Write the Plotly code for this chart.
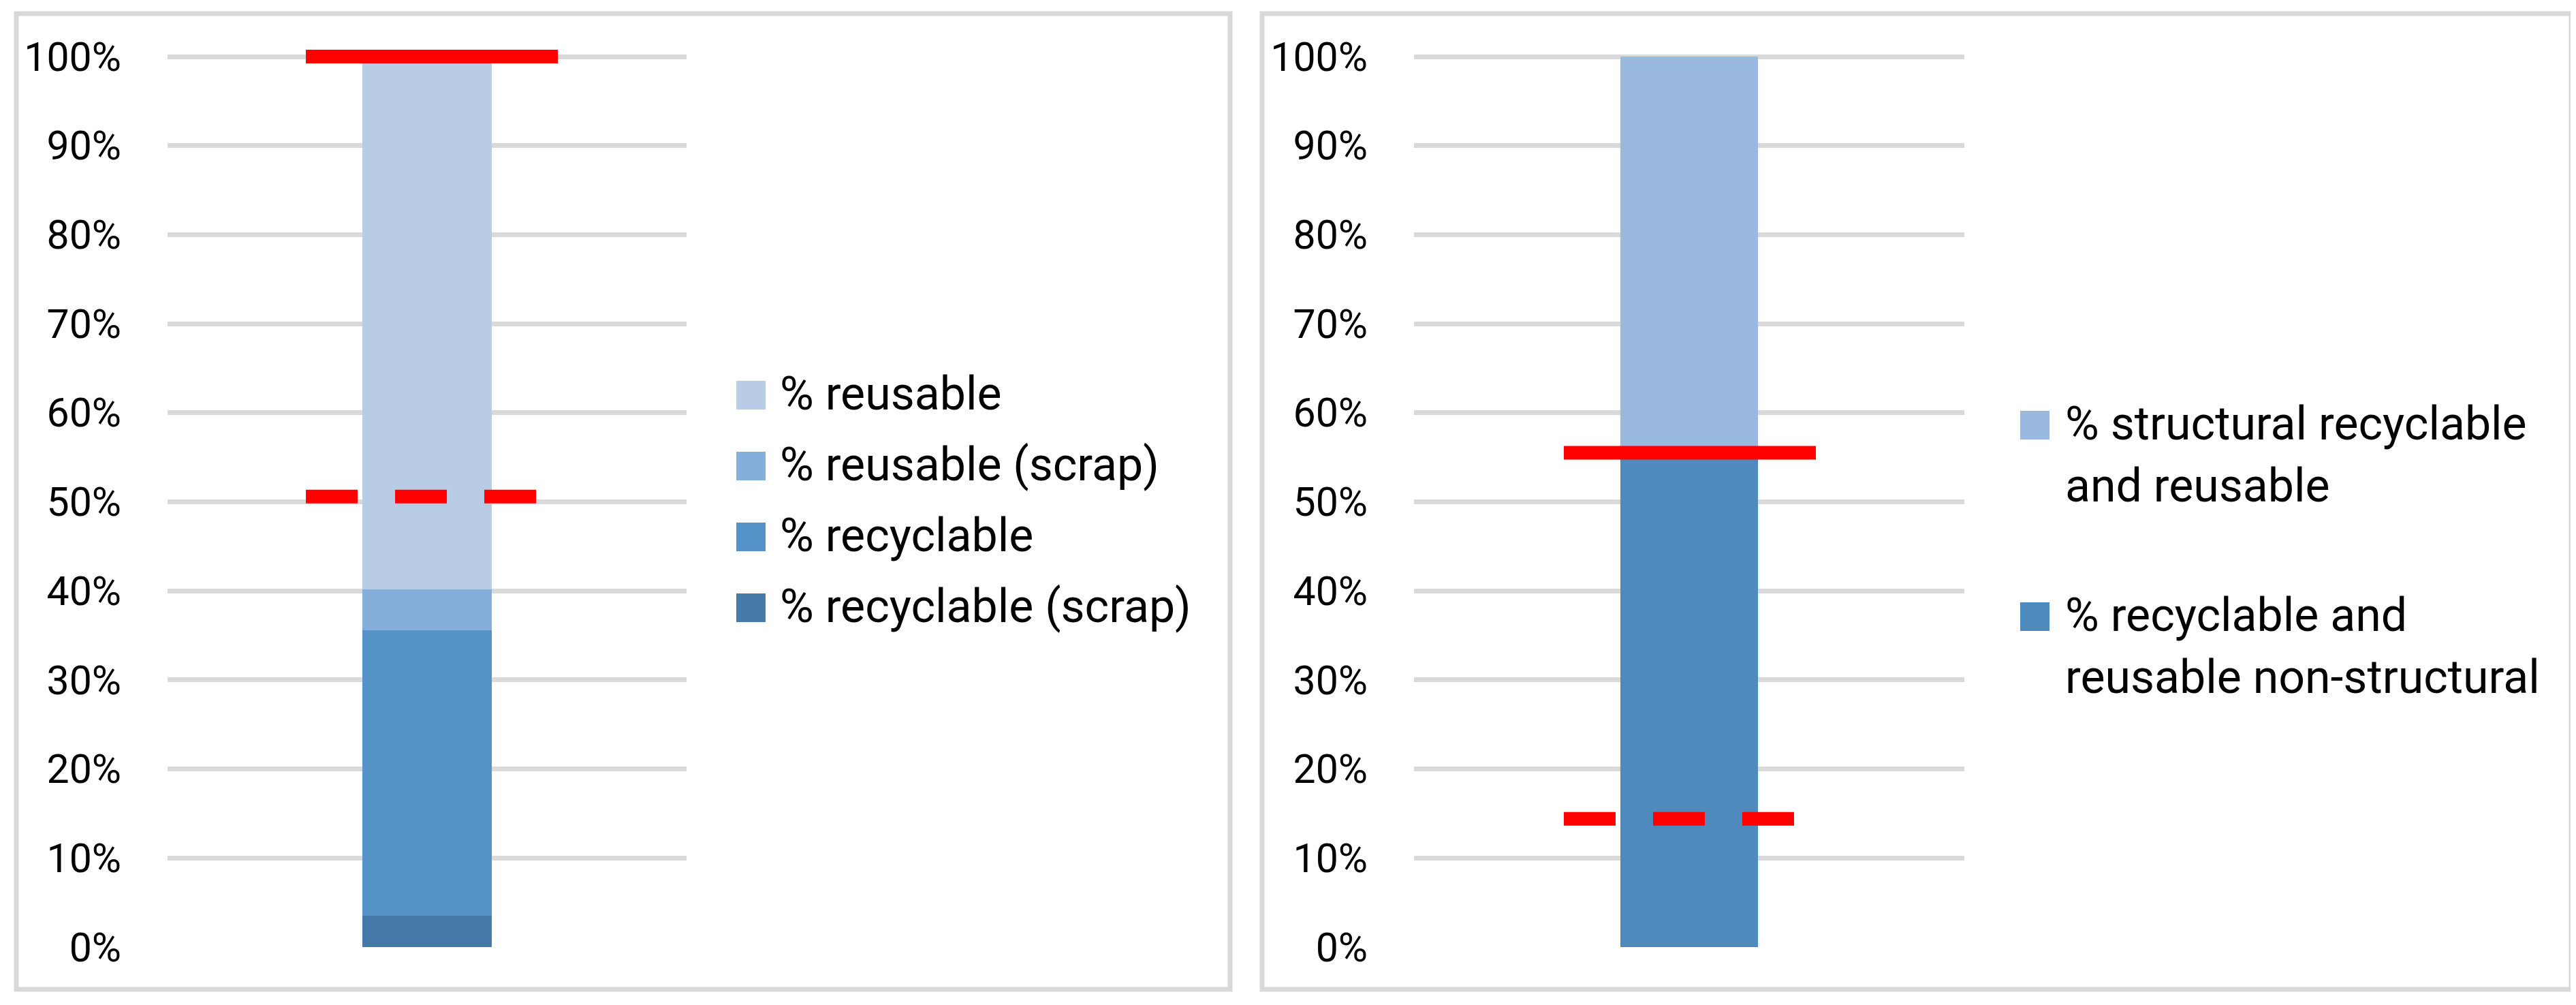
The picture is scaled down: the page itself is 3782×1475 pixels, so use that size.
import plotly.graph_objects as go

# ---------------- data ----------------
tick_vals = [0, 0.1, 0.2, 0.3, 0.4, 0.5, 0.6, 0.7, 0.8, 0.9, 1.0]
tick_text = ["0%", "10%", "20%", "30%", "40%", "50%", "60%", "70%", "80%", "90%", "100%"]

# left panel (stacked from bottom to top)
left_names = ["% recyclable (scrap)", "% recyclable", "% reusable (scrap)", "% reusable"]
left_values = [0.035, 0.321, 0.046, 0.598]
left_colors = ["#4678a8", "#5592c8", "#86aedb", "#b8cce6"]
left_target_solid = 1.00
left_target_dashed = 0.506

# right panel (stacked from bottom to top)
right_names = ["% recyclable and<br>reusable non-structural", "% structural recyclable<br>and reusable"]
right_values = [0.55, 0.45]
right_colors = ["#4f8abc", "#99b9df"]
right_target_solid = 0.555
right_target_dashed = 0.144

# ---------------- layout geometry ----------------
PAGE_W, PAGE_H = 3782, 1475
OFF = 8  # default body margin of the html page
W, H = PAGE_W - OFF, PAGE_H - OFF


def px(x):
    return (x - OFF) / W


def py(y):
    return 1 - (y - OFF) / H


FONT = "Roboto, sans-serif"
Y0_PX, Y100_PX = 1390, 83
YMAX = 1.02
y_top_px = Y0_PX - YMAX * (Y0_PX - Y100_PX)
ydom = [py(Y0_PX), py(y_top_px)]

left_dom = [px(246), px(1008)]
right_dom = [px(2076), px(2884)]

fig = go.Figure()

for name, val, col in zip(left_names, left_values, left_colors):
    fig.add_trace(go.Bar(x=[0], y=[val], name=name.replace("<br>", " "),
                         marker=dict(color=col, line=dict(width=0)),
                         width=1, xaxis="x", yaxis="y", showlegend=False))
for name, val, col in zip(right_names, right_values, right_colors):
    fig.add_trace(go.Bar(x=[0], y=[val], name=name.replace("<br>", " "),
                         marker=dict(color=col, line=dict(width=0)),
                         width=1, xaxis="x2", yaxis="y2", showlegend=False))

# target lines
fig.add_trace(go.Scatter(x=[-0.934, 1.008], y=[left_target_solid] * 2, mode="lines",
                         line=dict(color="#ff0000", width=20), xaxis="x", yaxis="y", showlegend=False))
fig.add_trace(go.Scatter(x=[-0.934, 1.008], y=[left_target_dashed] * 2, mode="lines",
                         line=dict(color="#ff0000", width=20, dash="76px,55px"), xaxis="x", yaxis="y", showlegend=False))
fig.add_trace(go.Scatter(x=[-0.911, 0.921], y=[right_target_solid] * 2, mode="lines",
                         line=dict(color="#ff0000", width=20), xaxis="x2", yaxis="y2", showlegend=False))
fig.add_trace(go.Scatter(x=[-0.911, 0.921], y=[right_target_dashed] * 2, mode="lines",
                         line=dict(color="#ff0000", width=20, dash="76px,55px"), xaxis="x2", yaxis="y2", showlegend=False))

yaxis_common = dict(range=[0, YMAX], domain=ydom, tickvals=tick_vals, ticktext=tick_text,
                    showgrid=True, gridcolor="#d9d9d9", gridwidth=7, zeroline=False,
                    showline=False, ticks="", ticklabelstandoff=67, automargin=False,
                    tickfont=dict(family=FONT, size=59, color="#000000"), fixedrange=True)
xaxis_common = dict(range=[-2, 2], showgrid=False, zeroline=False, showline=False,
                    showticklabels=False, ticks="", automargin=False, fixedrange=True)

fig.update_layout(
    width=W, height=H, autosize=False,
    margin=dict(l=0, r=0, t=0, b=0),
    paper_bgcolor="white", plot_bgcolor="white",
    barmode="stack", bargap=0,
    showlegend=False,
    xaxis=dict(domain=left_dom, anchor="y", **xaxis_common),
    yaxis=dict(anchor="x", **yaxis_common),
    xaxis2=dict(domain=right_dom, anchor="y2", **xaxis_common),
    yaxis2=dict(anchor="x2", **yaxis_common),
)

# panel borders
for x0, x1 in [(24, 1806), (1853, 3775)]:
    fig.add_shape(type="rect", xref="paper", yref="paper",
                  x0=px(x0), x1=px(x1), y0=py(1452), y1=py(20),
                  line=dict(color="#d9d9d9", width=7), fillcolor="rgba(0,0,0,0)", layer="below")

# legends (drawn from the same name / colour lists)
LEG_FONT = dict(family=FONT, size=68, color="#000000")
left_leg_y = [580, 684, 788, 892]  # top item first
for (name, col), ypx in zip(list(zip(left_names, left_colors))[::-1], left_leg_y):
    fig.add_shape(type="rect", xref="paper", yref="paper",
                  x0=px(1081), x1=px(1124), y0=py(ypx + 21), y1=py(ypx - 21),
                  line=dict(width=0), fillcolor=col)
    fig.add_annotation(xref="paper", yref="paper", x=px(1143), y=py(ypx - 2),
                       text=name, showarrow=False, xanchor="left", yanchor="middle", font=LEG_FONT)

right_leg_y = [624, 905]
for (name, col), ypx in zip(list(zip(right_names, right_colors))[::-1], right_leg_y):
    fig.add_shape(type="rect", xref="paper", yref="paper",
                  x0=px(2966), x1=px(3009), y0=py(ypx + 21), y1=py(ypx - 21),
                  line=dict(width=0), fillcolor=col)
    for i, line in enumerate(name.split("<br>")):
        fig.add_annotation(xref="paper", yref="paper", x=px(3030), y=py(ypx - 2 + 91 * i),
                           text=line, showarrow=False, xanchor="left", yanchor="middle", font=LEG_FONT)

fig.write_html("out.html")
